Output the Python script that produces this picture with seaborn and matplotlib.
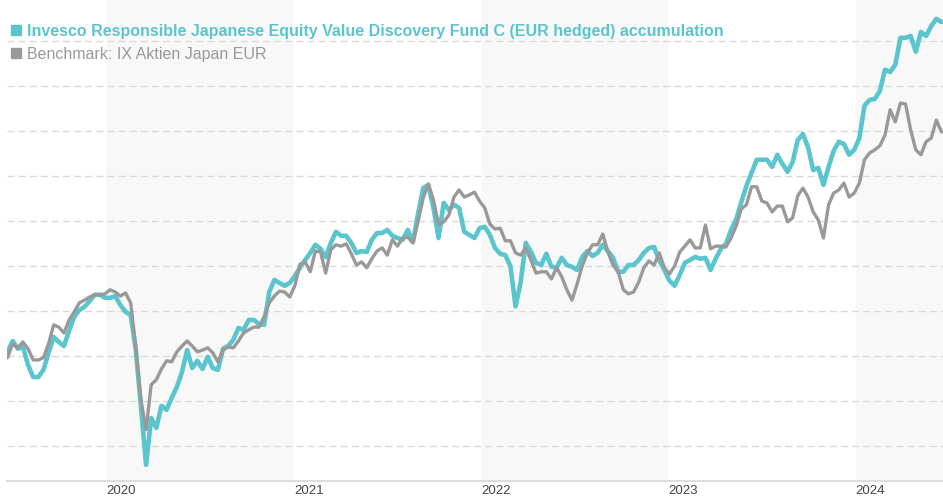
import numpy as np
import pandas as pd
import matplotlib
matplotlib.use("Agg")
import matplotlib.pyplot as plt
from matplotlib.lines import Line2D
import seaborn as sns

# 10-day samples, indexed performance (no y scale shown on the original)
dates = pd.date_range("2019-06-23", periods=183, freq="10D")

fund = [
    80.9, 83.3, 81.6, 82.0, 78.0, 75.3, 75.3, 76.9, 80.7, 84.2,
    83.1, 82.2, 85.6, 88.7, 90.2, 90.9, 92.2, 93.6, 93.6, 92.9,
    92.9, 93.3, 91.3, 89.8, 89.1, 81.3, 68.7, 55.8, 66.2, 64.0,
    68.9, 68.0, 70.7, 73.1, 76.4, 81.3, 77.3, 78.9, 77.1, 79.8,
    77.3, 76.9, 81.6, 82.2, 83.6, 86.2, 85.8, 88.0, 88.0, 87.1,
    86.9, 94.2, 96.9, 96.2, 95.6, 96.2, 97.8, 99.6, 101.3, 102.9,
    104.7, 103.8, 102.0, 105.1, 107.6, 106.7, 106.7, 105.1, 102.9, 103.3,
    103.1, 105.8, 107.3, 107.3, 108.0, 106.7, 106.2, 105.8, 108.0, 105.3,
    111.6, 117.3, 118.0, 112.9, 106.2, 114.0, 112.4, 113.6, 112.9, 107.6,
    106.9, 106.2, 108.4, 108.7, 106.9, 104.0, 102.7, 102.4, 100.0, 91.0,
    96.4, 105.1, 103.1, 100.7, 100.2, 102.7, 99.8, 99.6, 101.8, 100.2,
    99.8, 99.1, 102.0, 103.3, 102.2, 102.9, 104.7, 103.3, 101.8, 98.7,
    98.7, 100.2, 100.2, 101.3, 102.9, 104.0, 104.2, 101.3, 99.1, 96.7,
    95.6, 98.0, 100.7, 101.3, 102.0, 101.6, 101.8, 99.1, 101.6, 103.8,
    104.9, 108.0, 110.4, 114.2, 117.8, 120.7, 123.6, 123.6, 123.6, 122.0,
    124.7, 122.7, 120.9, 123.1, 128.0, 129.3, 126.4, 121.3, 121.8, 118.0,
    122.0, 125.6, 127.6, 127.1, 124.7, 125.8, 128.4, 135.6, 136.9, 137.1,
    138.9, 143.6, 143.1, 144.7, 150.7, 150.7, 151.1, 147.6, 152.0, 151.1,
    153.3, 154.9, 154.2,
]

bench = [
    79.6, 82.7, 81.8, 83.1, 81.6, 79.1, 79.1, 79.6, 82.7, 86.9,
    86.4, 85.1, 88.0, 89.8, 91.8, 92.4, 93.1, 93.6, 93.6, 93.8,
    94.7, 94.2, 93.3, 94.0, 91.8, 82.0, 70.2, 63.6, 73.6, 74.7,
    77.1, 78.9, 78.7, 80.9, 82.2, 83.3, 82.2, 80.9, 81.3, 81.8,
    80.7, 78.7, 81.3, 82.0, 81.8, 83.3, 85.1, 85.8, 86.4, 86.4,
    88.7, 91.8, 93.3, 94.4, 94.2, 93.1, 95.6, 100.4, 100.9, 98.7,
    103.3, 103.1, 98.4, 103.6, 104.7, 104.4, 104.9, 102.7, 100.2, 100.9,
    99.6, 101.6, 103.3, 104.0, 102.4, 105.8, 104.4, 106.2, 106.4, 105.1,
    109.8, 115.1, 118.2, 114.7, 109.1, 109.8, 111.3, 115.3, 116.9, 115.3,
    115.8, 116.4, 114.4, 112.9, 109.3, 108.2, 108.4, 105.6, 105.6, 102.9,
    102.4, 104.0, 101.3, 98.4, 98.7, 98.7, 97.1, 99.6, 97.6, 94.7,
    92.4, 96.0, 100.0, 102.9, 104.7, 104.7, 107.1, 103.1, 100.2, 98.7,
    94.7, 93.8, 94.2, 96.4, 99.6, 101.1, 100.2, 102.9, 99.6, 98.2,
    100.0, 103.1, 104.4, 105.8, 104.0, 104.0, 109.1, 103.8, 104.4, 104.4,
    104.2, 106.2, 108.9, 112.7, 113.6, 117.6, 117.6, 114.4, 114.0, 112.0,
    113.3, 113.3, 109.8, 110.7, 115.6, 117.3, 115.3, 112.0, 110.2, 106.2,
    113.6, 116.2, 116.9, 118.4, 115.3, 116.2, 118.4, 123.6, 125.1, 125.8,
    126.7, 129.1, 134.7, 132.0, 136.2, 136.0, 130.2, 125.8, 124.7, 127.6,
    128.4, 132.4, 129.8,
]

fund_label = "Invesco Responsible Japanese Equity Value Discovery Fund C (EUR hedged) accumulation"
bench_label = "Benchmark: IX Aktien Japan EUR"
years = [2020, 2021, 2022, 2023, 2024]
shaded_years = [2020, 2022, 2024]

teal = "#5bc5cd"
grey = "#999999"

sns.set_style("white")
plt.rcParams["font.family"] = ["Liberation Sans", "DejaVu Sans"]

df = pd.DataFrame({"date": dates, "fund": fund, "bench": bench})

fig = plt.figure(figsize=(9.43, 5.0), dpi=100)
ax = fig.add_axes([7 / 943, 19 / 500, 936 / 943, 481 / 500])

# alternating year bands
for y in shaded_years:
    ax.axvspan(pd.Timestamp(f"{y}-01-01"), pd.Timestamp(f"{y + 1}-01-01"),
               color="#f8f8f8", lw=0, zorder=0)

sns.lineplot(data=df, x="date", y="fund", ax=ax, color=teal, lw=3.3, zorder=3)
sns.lineplot(data=df, x="date", y="bench", ax=ax, color=grey, lw=2.4, zorder=4)

ax.set_xlim(pd.Timestamp("2019-06-22"), pd.Timestamp("2024-06-19"))
ax.set_ylim(52.2, 159.1)
ax.set_xlabel("")
ax.set_ylabel("")

# dashed horizontal grid, no y labels
ax.set_yticks(np.arange(60, 151, 10))
ax.set_yticklabels([])
ax.yaxis.grid(True, color="#dadada", linestyle=(0, (5, 3)), lw=1.0)
ax.xaxis.grid(False)
ax.set_axisbelow(True)

ax.set_xticks([pd.Timestamp(f"{y}-01-01") for y in years])
ax.set_xticklabels([str(y) for y in years], ha="left",
                   family=["Liberation Sans Narrow", "Liberation Sans", "DejaVu Sans"],
                   fontsize=9.5, color="#444444")
ax.tick_params(axis="both", length=0, pad=3)

for s in ["top", "right", "left"]:
    ax.spines[s].set_visible(False)
ax.spines["bottom"].set_color("#dddddd")
ax.spines["bottom"].set_linewidth(1.5)

handles = [
    Line2D([], [], marker="s", ls="none", color=teal, markersize=7),
    Line2D([], [], marker="s", ls="none", color=grey, markersize=7),
]
leg = ax.legend(handles, [fund_label, bench_label], loc="upper left",
                bbox_to_anchor=(0.004, 0.95), frameon=False, fontsize=11.5,
                handlelength=0.7, handletextpad=0.32, labelspacing=0.5,
                borderpad=0, borderaxespad=0, labelcolor=[teal, grey])
leg.get_texts()[0].set_fontweight("bold")

fig.savefig("out.png", dpi=100)
